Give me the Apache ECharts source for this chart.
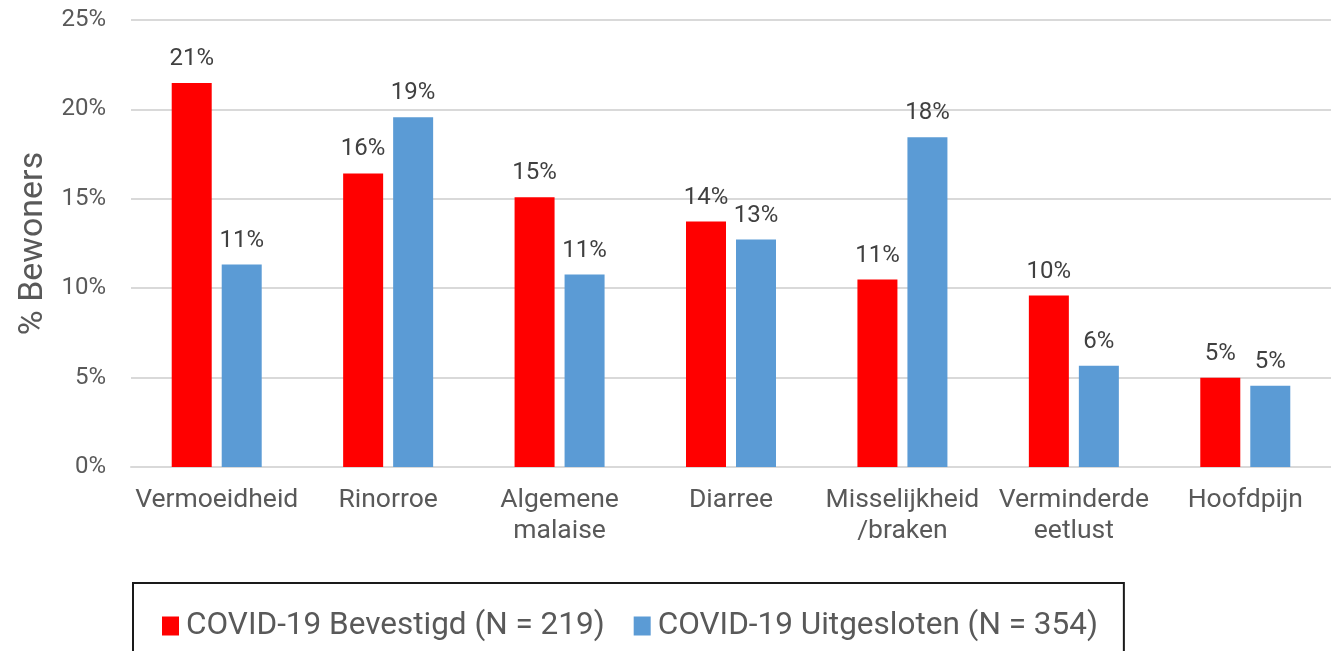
<!DOCTYPE html>
<html>
<head>
<meta charset="utf-8">
<script src="https://cdn.jsdelivr.net/npm/echarts@6/dist/echarts.min.js"></script>
<style>
html,body{margin:0;padding:0;background:#fff;}
#chart{width:1331px;height:651px;}
</style>
</head>
<body>
<div id="chart"></div>
<script>
// symptomen
var categories=["Vermoeidheid","Rinorroe","Algemene\nmalaise","Diarree","Misselijkheid\n/braken","Verminderde\neetlust","Hoofdpijn"];
var seriesNames=["COVID-19 Bevestigd (N = 219)","COVID-19 Uitgesloten (N = 354)"];
var bevestigd=[21.47,16.42,15.08,13.73,10.48,9.59,4.99];
var uitgesloten=[11.32,19.56,10.76,12.72,18.44,5.66,4.54];
var bevestigdLabels=["21%","16%","15%","14%","11%","10%","5%"];
var uitgeslotenLabels=["11%","19%","11%","13%","18%","6%","5%"];
var yTicks=[0,5,10,15,20,25];

var FONT="Roboto";

function labelFrom(arr){
	return {
		show:true,
		position:"top",
		distance:12,
		color:"#404040",
		fontSize:24,
		fontFamily:FONT,
		formatter:function(p){return arr[p.dataIndex];}
	};
}

var chart=echarts.init(document.getElementById("chart"));
var option={
	animation:false,
	grid:{left:131,top:20,width:1211,height:447,containLabel:false},
	legend:{
		left:133,
		top:583,
		orient:"horizontal",
		data:seriesNames,
		icon:"rect",
		itemWidth:17,
		itemHeight:19,
		itemGap:29,
		padding:[27,26,40,29],
		borderColor:"#1a1a1a",
		borderWidth:2,
		textStyle:{color:"#595959",fontSize:31.5,fontFamily:FONT,padding:[0,0,0,2]}
	},
	xAxis:{
		type:"category",
		data:categories,
		axisLine:{show:true,lineStyle:{color:"#d9d9d9",width:2}},
		axisTick:{show:false},
		axisLabel:{color:"#595959",fontSize:26.5,fontFamily:FONT,margin:18,lineHeight:31,interval:0}
	},
	yAxis:{
		type:"value",
		min:yTicks[0],
		max:yTicks[yTicks.length-1],
		interval:5,
		name:"% Bewoners",
		nameLocation:"middle",
		nameGap:80,
		nameRotate:90,
		nameTextStyle:{color:"#595959",fontSize:34,fontFamily:FONT},
		axisLine:{show:false},
		axisTick:{show:false},
		splitLine:{lineStyle:{color:"#d9d9d9",width:2}},
		axisLabel:{color:"#595959",fontSize:24,fontFamily:FONT,margin:25,formatter:"{value}%"}
	},
	series:[
		{
			name:seriesNames[0],
			type:"bar",
			data:bevestigd,
			barWidth:40,
			barGap:"25%",
			itemStyle:{color:"#ff0000"},
			label:labelFrom(bevestigdLabels)
		},
		{
			name:seriesNames[1],
			type:"bar",
			data:uitgesloten,
			barWidth:40,
			itemStyle:{color:"#5b9bd5"},
			label:labelFrom(uitgeslotenLabels)
		}
	]
};
chart.setOption(option);
</script>
</body>
</html>
